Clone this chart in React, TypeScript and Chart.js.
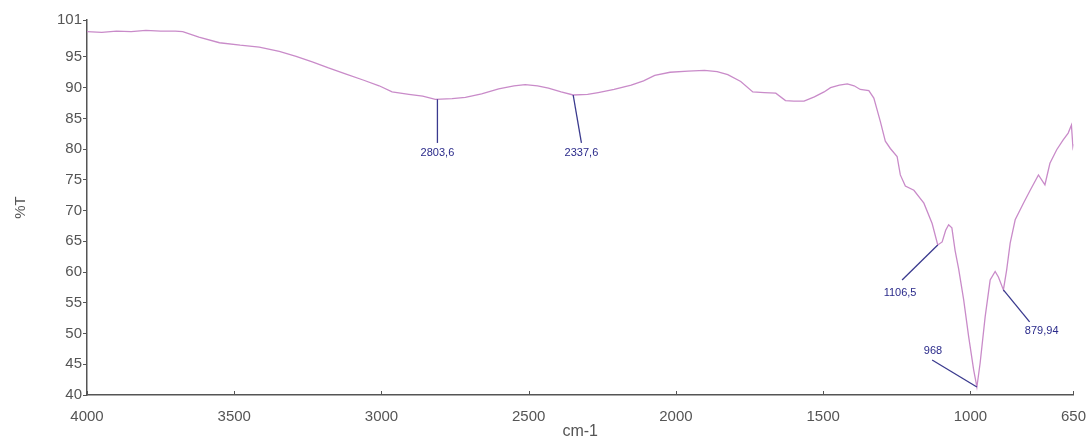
import React, { useEffect, useRef } from "react";
import { Chart, registerables } from "chart.js";

Chart.register(...registerables);

// Wavenumber (cm-1) and transmittance (%T)
const wavenumbers = [
  4000, 3950, 3900, 3850, 3800, 3750, 3700, 3675, 3620, 3550, 3480, 3415, 3347, 3290, 3235,
  3180, 3120, 3060, 3008, 2964, 2907, 2860, 2817, 2760, 2715, 2660, 2602, 2550, 2512, 2470,
  2433, 2390, 2349, 2300, 2264, 2210, 2152, 2110, 2072, 2020, 1959, 1903, 1860, 1824, 1780,
  1739, 1700, 1661, 1628, 1600, 1565, 1530, 1497, 1475, 1445, 1418, 1395, 1374, 1345, 1328,
  1306, 1289, 1272, 1249, 1238, 1221, 1192, 1158, 1130, 1111, 1096, 1084, 1074, 1063, 1052,
  1040, 1023, 1006, 989, 978, 967, 950, 933, 916, 905, 888, 877, 865, 848, 820,
  797, 769, 747, 730, 707, 685, 668, 657, 652, 650,
];
const transmittance = [
  99.1, 99.0, 99.2, 99.1, 99.3, 99.2, 99.2, 99.1, 98.2, 97.3, 96.9, 96.6, 95.9, 95.1, 94.2,
  93.2, 92.2, 91.2, 90.3, 89.3, 88.9, 88.6, 88.1, 88.2, 88.4, 89.0, 89.8, 90.3, 90.5, 90.3,
  89.9, 89.3, 88.8, 88.9, 89.2, 89.7, 90.4, 91.1, 92.0, 92.5, 92.7, 92.8, 92.6, 92.1, 91.0,
  89.3, 89.2, 89.1, 87.9, 87.8, 87.8, 88.5, 89.3, 90.0, 90.4, 90.6, 90.3, 89.7, 89.5, 88.3,
  84.5, 81.3, 80.1, 78.8, 75.8, 74.0, 73.3, 71.2, 67.9, 64.4, 64.9, 66.8, 67.7, 67.2, 63.5,
  60.5, 55.5, 49.5, 44.1, 41.3, 45.2, 52.7, 58.7, 60.1, 59.2, 57.1, 60.3, 64.7, 68.5, 71.2,
  73.3, 75.8, 74.2, 77.7, 79.9, 81.5, 82.6, 83.9, 80.4, 80.8,
];

const xTickValues = [4000, 3500, 3000, 2500, 2000, 1500, 1000, 650];
const yTickValues = [40, 45, 50, 55, 60, 65, 70, 75, 80, 85, 90, 95, 101];

// Peak annotations (data units)
const peakLabels = ["2803,6", "2337,6", "1106,5", "968", "879,94"];
const peakWn = [2810, 2349, 1111, 978, 888];
const peakT = [88.1, 88.8, 64.4, 41.3, 57.1];
const leaderEndWn = [2810, 2321, 1232, 1130, 799];
const leaderEndT = [81.0, 81.0, 58.7, 45.7, 51.9];
const labelWn = [2810, 2321, 1239, 1127, 758];
const labelT = [79.4, 79.4, 56.6, 47.2, 50.4];

const annotationPlugin = {
  id: "peaks",
  afterDatasetsDraw(chart: any) {
    const { ctx, scales } = chart;
    const xs = scales.x;
    const ys = scales.y;
    ctx.save();
    ctx.strokeStyle = "#3a3a8e";
    ctx.lineWidth = 1.3;
    for (let i = 0; i < peakLabels.length; i++) {
      ctx.beginPath();
      ctx.moveTo(xs.getPixelForValue(peakWn[i]), ys.getPixelForValue(peakT[i]));
      ctx.lineTo(xs.getPixelForValue(leaderEndWn[i]), ys.getPixelForValue(leaderEndT[i]));
      ctx.stroke();
    }
    ctx.fillStyle = "#2a2a8a";
    ctx.font = "11px 'Liberation Sans', Arial, sans-serif";
    ctx.textAlign = "center";
    ctx.textBaseline = "middle";
    for (let i = 0; i < peakLabels.length; i++) {
      ctx.fillText(peakLabels[i], xs.getPixelForValue(labelWn[i]), ys.getPixelForValue(labelT[i]));
    }
    ctx.restore();
  },
  afterDraw(chart: any) {
    const { ctx, scales } = chart;
    const xs = scales.x;
    const bottom = chart.chartArea.bottom;
    ctx.save();
    ctx.strokeStyle = "#555";
    ctx.lineWidth = 1;
    for (const v of xTickValues) {
      const px = Math.round(xs.getPixelForValue(v)) + 0.5;
      ctx.beginPath();
      ctx.moveTo(px, bottom);
      ctx.lineTo(px, bottom - 4);
      ctx.stroke();
    }
    ctx.restore();
  },
};

export default function App() {
  const canvasRef = useRef<HTMLCanvasElement | null>(null);

  useEffect(() => {
    document.body.style.margin = "0";
    const canvas = canvasRef.current;
    if (!canvas) return;
    const points = wavenumbers.map((w, i) => ({ x: w, y: transmittance[i] }));
    const tickFont = { family: "'Liberation Sans', Arial, sans-serif", size: 15 };
    const chart = new Chart(canvas, {
      type: "line",
      data: {
        datasets: [
          {
            data: points,
            borderColor: "#c98bc9",
            borderWidth: 1.3,
            pointRadius: 0,
            tension: 0,
            fill: false,
          },
        ],
      },
      options: {
        animation: false,
        responsive: false,
        parsing: true,
        layout: { padding: { top: 20, right: 14, left: 0, bottom: 0 } },
        plugins: {
          legend: { display: false },
          tooltip: { enabled: false },
        },
        scales: {
          x: {
            type: "linear",
            reverse: true,
            min: 650,
            max: 4000,
            afterBuildTicks: (scale: any) => {
              scale.ticks = xTickValues.map((v) => ({ value: v }));
            },
            afterFit: (scale: any) => {
              scale.height = 46;
            },
            grid: { display: false },
            border: { display: true, color: "#555", width: 1.5 },
            ticks: {
              color: "#555",
              font: tickFont,
              padding: 5,
              autoSkip: false,
              maxRotation: 0,
              callback: (v: any) => String(v),
            },
            title: {
              display: true,
              text: "cm-1",
              color: "#555",
              font: { family: "'Liberation Sans', Arial, sans-serif", size: 16 },
              padding: { top: 0, bottom: 0 },
            },
          },
          y: {
            type: "linear",
            min: 40,
            max: 101,
            afterBuildTicks: (scale: any) => {
              scale.ticks = yTickValues.map((v) => ({ value: v }));
            },
            afterFit: (scale: any) => {
              scale.width = 87;
            },
            grid: {
              display: true,
              drawOnChartArea: false,
              drawTicks: true,
              tickLength: 4,
              color: "#555",
            },
            border: { display: true, color: "#555", width: 1.5 },
            ticks: {
              color: "#555",
              font: tickFont,
              padding: 1,
              autoSkip: false,
              callback: (v: any) => String(v),
            },
            title: {
              display: true,
              text: "%T",
              color: "#555",
              font: { family: "'Liberation Sans', Arial, sans-serif", size: 15 },
              padding: { top: 12, bottom: 0 },
            },
          },
        },
      },
      plugins: [annotationPlugin],
    });
    return () => chart.destroy();
  }, []);

  return (
    <div style={{ width: 1091, height: 441 }}>
      <canvas ref={canvasRef} width={1091} height={441} style={{ display: "block" }} />
    </div>
  );
}
